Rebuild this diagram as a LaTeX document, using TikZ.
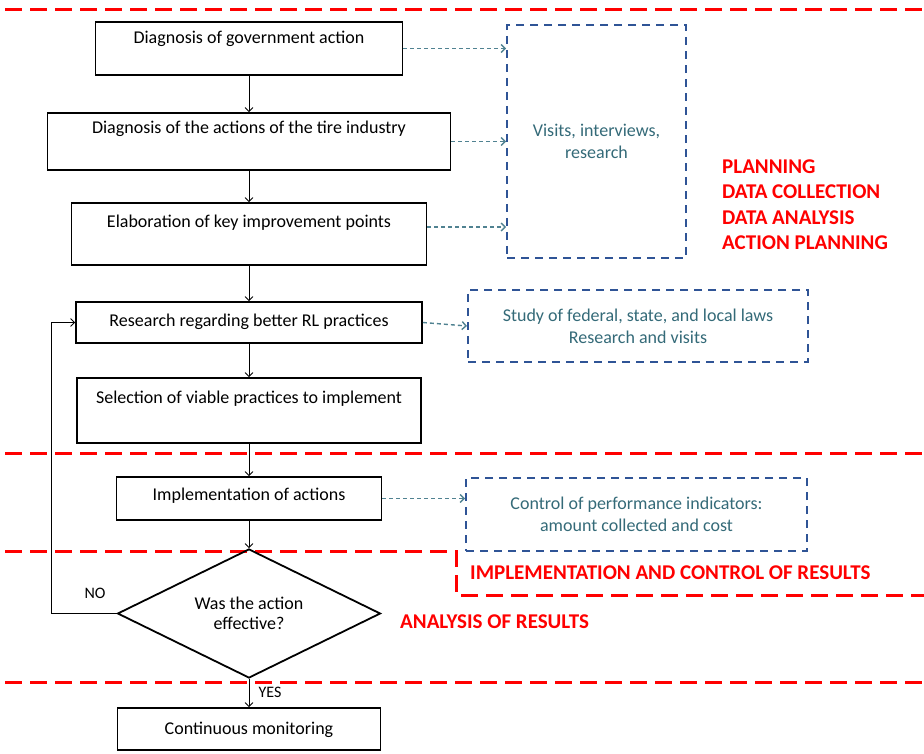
\documentclass[tikz,border=0pt]{standalone}
\usepackage{fontspec}
\setmainfont{Carlito}
\usetikzlibrary{arrows.meta,shapes.geometric}
\definecolor{infoblue}{RGB}{47,84,150}
\definecolor{infotext}{RGB}{52,106,120}
\definecolor{infoarrow}{RGB}{80,130,145}
\tikzset{>={Straight Barb[length=4pt,width=8pt]}}
\tikzset{
  stepbox/.style={draw, line width=1.8pt, inner xsep=0pt, inner ysep=0pt, font=\fontsize{18}{20}\selectfont},
  infobox/.style={draw=infoblue, line width=2pt, dash pattern=on 8pt off 6pt, text=infotext, align=center, inner sep=0pt, font=\fontsize{18}{22}\selectfont},
  infolink/.style={->, draw=infoarrow, line width=1.4pt, dash pattern=on 4pt off 3pt},
  phaseline/.style={red, line width=3pt, dash pattern=on 17pt off 8pt},
  phaselabel/.style={text=red, font=\fontsize{21}{25.5}\selectfont\bfseries, align=left, anchor=west, inner sep=0pt},
  flowlabel/.style={font=\fontsize{16}{18}\selectfont, inner sep=0pt},
}

\begin{document}
\begin{tikzpicture}[x=1pt, y=-1pt]

  \useasboundingbox (0,0) rectangle (924,754);

  %% phase borders
  \draw[phaseline] (5,10) -- (924,10);
  \draw[phaseline] (5,453) -- (924,453);
  \draw[phaseline] (5,551) -- (456,551) -- (456,595) -- (924,595);
  \draw[phaseline] (5,682) -- (924,682);

  %% main flow
  \node[stepbox, minimum width=307pt, text height=22pt, text depth=31pt] (b1) at (249,48.5) {Diagnosis of government action};
  \node[stepbox, minimum width=403pt, text height=21pt, text depth=36pt] (b2) at (249,141.5) {Diagnosis of the actions of the tire industry};
  \node[stepbox, minimum width=355pt, text height=25pt, text depth=37pt] (b3) at (249,234) {Elaboration of key improvement points};
  \node[stepbox, minimum width=346pt, text height=24pt, text depth=17pt] (b4) at (249,322.5) {Research regarding better RL practices};
  \node[stepbox, minimum width=344pt, text height=25pt, text depth=40pt] (b5) at (249,410.5) {Selection of viable practices to implement};
  \node[stepbox, minimum width=265pt, text height=23pt, text depth=20pt] (b6) at (249,498.5) {Implementation of actions};
  \node[draw, diamond, shape aspect=2, line width=1.8pt, minimum width=263pt, minimum height=129pt, inner sep=0pt, align=center, font=\fontsize{18}{20}\selectfont] (dec) at (249,613.5) {Was the action\\effective?};
  \node[stepbox, minimum width=263pt, text height=26pt, text depth=16pt] (b7) at (249,729) {Continuous monitoring};

  %% side boxes
  \node[infobox, minimum width=179pt, minimum height=233pt] (bA) at (596.5,141.5) {Visits, interviews,\\research};
  \node[infobox, minimum width=340pt, minimum height=72pt] (bB) at (638,326) {Study of federal, state, and local laws\\Research and visits};
  \node[infobox, minimum width=341pt, minimum height=73pt] (bC) at (636.5,514.5) {Control of performance indicators:\\amount collected and cost};

  %% phase names
  \node[phaselabel] (ph1) at (722,204.5) {PLANNING\\DATA COLLECTION\\DATA ANALYSIS\\ACTION PLANNING};
  \node[phaselabel] (ph2) at (470,573) {IMPLEMENTATION AND CONTROL OF RESULTS};
  \node[phaselabel] (ph3) at (400,622) {ANALYSIS OF RESULTS};

  \node[flowlabel] (lno) at (95,593) {NO};
  \node[flowlabel] (lyes) at (270,692) {YES};

  \draw[->, line width=0.8pt] (b1) -- (b2);
  \draw[->, line width=0.8pt] (b2) -- (b3);
  \draw[->, line width=0.8pt] (b3) -- (b4);
  \draw[->, line width=0.8pt] (b4) -- (b5);
  \draw[->, line width=0.8pt] (b5) -- (b6);
  \draw[->, line width=0.8pt] (b6) -- (dec);
  \draw[->, line width=0.8pt] (dec) -- (b7);
  \draw[->, line width=0.8pt] (dec.west) -- ++(-65,0) |- (b4.west); %% NO loop

  \draw[infolink] (b1.east) -- (b1.east -| bA.west);
  \draw[infolink] (b2.east) -- (b2.east -| bA.west);
  \draw[infolink] ([yshift=7pt]b3.east) -- ([yshift=7pt]b3.east -| bA.west);
  \draw[infolink] (b4.east) -- (bB.west);
  \draw[infolink] (b6.east) -- (b6.east -| bC.west);

\end{tikzpicture}
\end{document}
